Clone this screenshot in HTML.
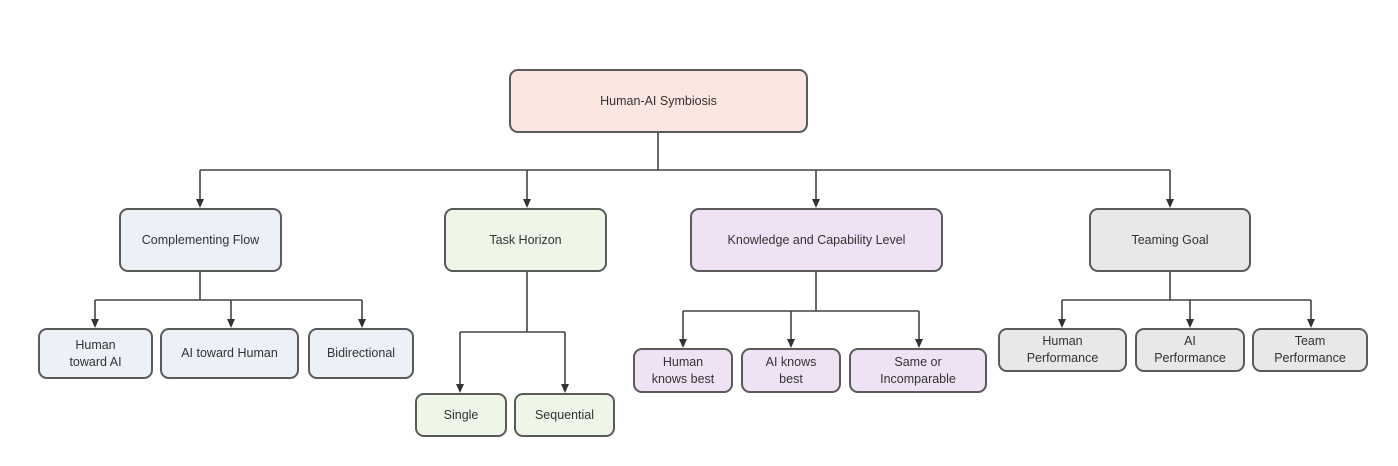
<!DOCTYPE html>
<html><head><meta charset="utf-8"><style>
body{margin:0;width:1398px;height:466px;background:#fff;overflow:hidden;position:relative;font-family:"Liberation Sans",sans-serif;}
.b{position:absolute;box-sizing:border-box;border:2px solid #5a5a5a;border-radius:9px;display:flex;align-items:center;justify-content:center;text-align:center;font-size:12.5px;color:#333;line-height:1.35;}
.r{background:#fce6e0}.bl{background:#ebf1f7}.g{background:#eef6e8}.p{background:#eee2f4}.gy{background:#e8e8e8}
svg{position:absolute;left:0;top:0}
</style></head><body>
<svg width="1398" height="466">
<g stroke="#444" stroke-width="1.6" fill="none">
<path d="M658 133V170M200 170H1170"/>
<path d="M200 170V202M527 170V202M816 170V202M1170 170V202"/>
<path d="M200 272V300M95 300H362"/>
<path d="M95 300V322M231 300V322M362 300V322"/>
<path d="M527 272V332M460 332H565"/>
<path d="M460 332V387M565 332V387"/>
<path d="M816 272V311M683 311H919"/>
<path d="M683 311V342M791 311V342M919 311V342"/>
<path d="M1170 272V300M1062 300H1311"/>
<path d="M1062 300V322M1190 300V322M1311 300V322"/>
</g>
<g fill="#333">
<path d="M196 199h8l-4 9z"/><path d="M523 199h8l-4 9z"/><path d="M812 199h8l-4 9z"/><path d="M1166 199h8l-4 9z"/>
<path d="M91 319h8l-4 9z"/><path d="M227 319h8l-4 9z"/><path d="M358 319h8l-4 9z"/>
<path d="M456 384h8l-4 9z"/><path d="M561 384h8l-4 9z"/>
<path d="M679 339h8l-4 9z"/><path d="M787 339h8l-4 9z"/><path d="M915 339h8l-4 9z"/>
<path d="M1058 319h8l-4 9z"/><path d="M1186 319h8l-4 9z"/><path d="M1307 319h8l-4 9z"/>
</g></svg>
<div class="b r" style="left:509px;top:69px;width:299px;height:64px">Human-AI Symbiosis</div>
<div class="b bl" style="left:119px;top:208px;width:163px;height:64px">Complementing Flow</div>
<div class="b g" style="left:444px;top:208px;width:163px;height:64px">Task Horizon</div>
<div class="b p" style="left:690px;top:208px;width:253px;height:64px">Knowledge and Capability Level</div>
<div class="b gy" style="left:1089px;top:208px;width:162px;height:64px">Teaming Goal</div>
<div class="b bl" style="left:38px;top:328px;width:115px;height:51px">Human<br>toward AI</div>
<div class="b bl" style="left:160px;top:328px;width:139px;height:51px">AI toward Human</div>
<div class="b bl" style="left:308px;top:328px;width:106px;height:51px">Bidirectional</div>
<div class="b g" style="left:415px;top:393px;width:92px;height:44px">Single</div>
<div class="b g" style="left:514px;top:393px;width:101px;height:44px">Sequential</div>
<div class="b p" style="left:633px;top:348px;width:100px;height:45px">Human<br>knows best</div>
<div class="b p" style="left:741px;top:348px;width:100px;height:45px">AI knows<br>best</div>
<div class="b p" style="left:849px;top:348px;width:138px;height:45px">Same or<br>Incomparable</div>
<div class="b gy" style="left:998px;top:328px;width:129px;height:44px">Human<br>Performance</div>
<div class="b gy" style="left:1135px;top:328px;width:110px;height:44px">AI<br>Performance</div>
<div class="b gy" style="left:1252px;top:328px;width:116px;height:44px">Team<br>Performance</div>
</body></html>
